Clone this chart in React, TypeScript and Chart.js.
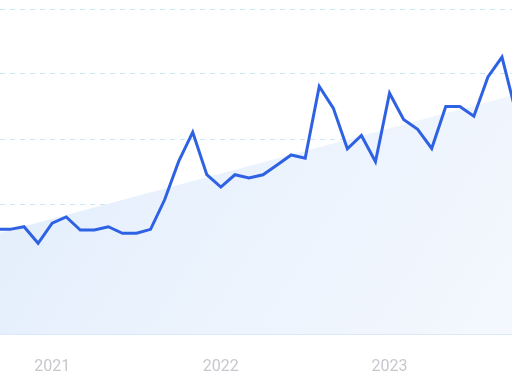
import React, { useEffect, useRef } from "react";
import { Chart, registerables } from "chart.js";

Chart.register(...registerables);

// Monthly categories (Sep 2020 .. Oct 2023)
const months: string[] = [
  "2020-09", "2020-10", "2020-11", "2020-12",
  "2021-01", "2021-02", "2021-03", "2021-04", "2021-05", "2021-06",
  "2021-07", "2021-08", "2021-09", "2021-10", "2021-11", "2021-12",
  "2022-01", "2022-02", "2022-03", "2022-04", "2022-05", "2022-06",
  "2022-07", "2022-08", "2022-09", "2022-10", "2022-11", "2022-12",
  "2023-01", "2023-02", "2023-03", "2023-04", "2023-05", "2023-06",
  "2023-07", "2023-08", "2023-09", "2023-10",
];

// Series values
const interest: number[] = [
  32.2, 32.2, 33.0, 27.9, 34.1, 36.0, 32.0, 32.0, 33.0, 31.0,
  31.0, 32.2, 41.3, 53.1, 62.1, 49.0, 45.2, 49.0, 48.0, 49.0,
  52.0, 55.1, 54.1, 76.2, 69.5, 57.0, 61.1, 53.0, 74.1, 66.0,
  63.0, 57.1, 70.0, 70.0, 67.0, 79.1, 85.2, 68.0,
];

// Trend line end values (first and last month)
const trendStart = 30.8;
const trendEnd = 73.7;

// Tick labels (January of each year)
const tickLabels: string[] = ["2021", "2022", "2023"];

export default function App() {
  const ref = useRef<HTMLCanvasElement | null>(null);

  useEffect(() => {
    if (!ref.current) return;
    const lineData = interest.map((v, i) => ({ x: i, y: v }));
    const trendData = [
      { x: 0, y: trendStart },
      { x: months.length - 1, y: trendEnd },
    ];
    const tickIdx = tickLabels.map((y) => months.indexOf(`${y}-01`));

    const chart = new Chart(ref.current, {
      type: "line",
      data: {
        datasets: [
          {
            data: lineData,
            borderColor: "#2f62e3",
            borderWidth: 3,
            pointRadius: 0,
            tension: 0,
            fill: false,
          },
          {
            data: trendData,
            borderWidth: 0,
            borderColor: "rgba(0,0,0,0)",
            pointRadius: 0,
            fill: "origin",
            backgroundColor: (ctx: any) => {
              const area = ctx.chart.chartArea;
              if (!area) return "#eaf2fd";
              const g = ctx.chart.ctx.createLinearGradient(
                area.left,
                area.top,
                area.right,
                area.bottom
              );
              g.addColorStop(0, "#e1edfc");
              g.addColorStop(1, "#f4f8fe");
              return g;
            },
          },
        ],
      },
      options: {
        animation: false,
        responsive: true,
        maintainAspectRatio: false,
        layout: { padding: { top: 9, left: 0, right: 0, bottom: 0 } },
        plugins: {
          legend: { display: false },
          tooltip: { enabled: false },
        },
        scales: {
          x: {
            type: "linear",
            min: 0.289,
            max: 36.712,
            grid: { display: false, drawTicks: false },
            border: { display: true, color: "#d9e8fb", width: 2 },
            afterFit: (s: any) => {
              s.height = 50;
            },
            afterBuildTicks: (s: any) => {
              s.ticks = tickIdx.map((v) => ({ value: v }));
            },
            ticks: {
              autoSkip: false,
              maxRotation: 0,
              padding: 23,
              color: "#c7c8cd",
              font: { family: "Roboto", size: 16 },
              callback: (value: any) => {
                const i = tickIdx.indexOf(Number(value));
                return i >= 0 ? tickLabels[i] : "";
              },
            },
          },
          y: {
            min: 0,
            max: 100,
            ticks: { display: false, stepSize: 20 },
            grid: {
              color: "rgba(160,210,240,0.55)",
              drawTicks: false,
              lineWidth: 1,
            },
            border: { display: false, dash: [5, 5] },
            afterFit: (s: any) => {
              s.width = 0;
            },
          },
        },
      },
    });
    return () => chart.destroy();
  }, []);

  return (
    <div
      style={{
        position: "fixed",
        left: 0,
        top: 0,
        width: 512,
        height: 384,
        background: "#ffffff",
      }}
    >
      <canvas ref={ref} />
    </div>
  );
}
